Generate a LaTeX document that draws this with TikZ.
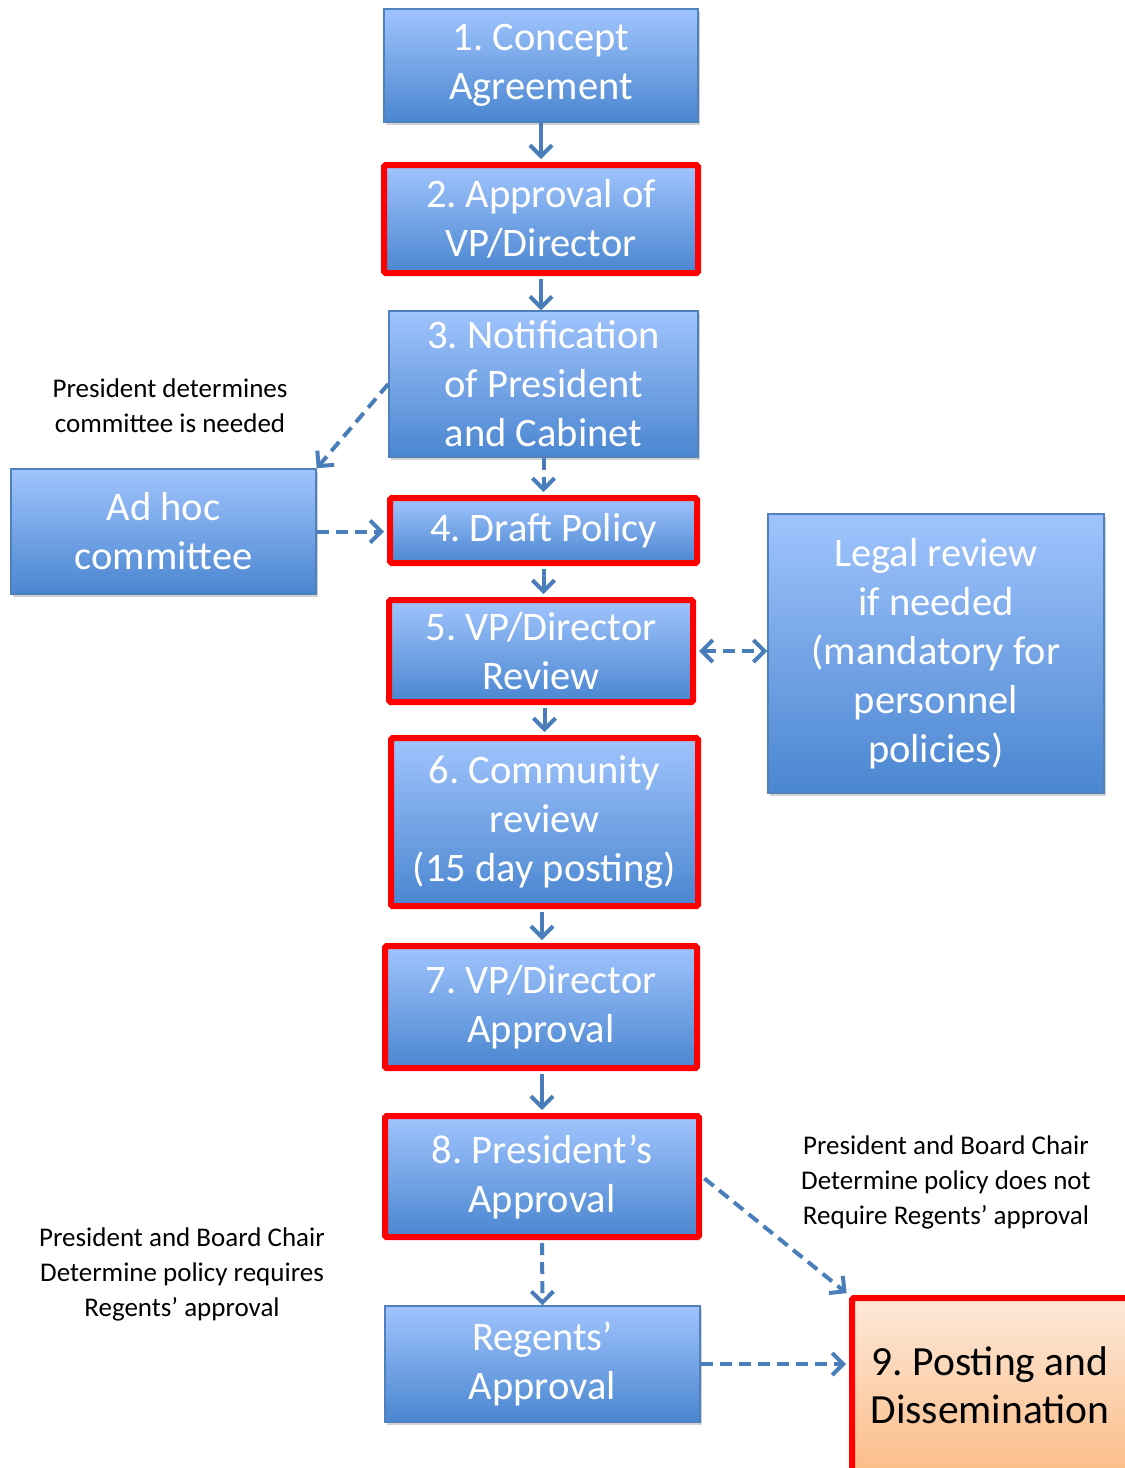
\documentclass[tikz,border=0pt]{standalone}
\usepackage{fontspec}
\setmainfont{Carlito}
\usetikzlibrary{arrows.meta,shadows}
\definecolor{btop}{HTML}{A0C4FD}
\definecolor{bbot}{HTML}{4A86D0}
\definecolor{bline}{HTML}{4F81BD}
\definecolor{arr}{HTML}{4A7EBB}
\definecolor{ptop}{HTML}{FDE9DA}
\definecolor{pbot}{HTML}{FBBD88}
\tikzset{
 bluebox/.style={draw=bline, line width=1.5pt, top color=btop, bottom color=bbot, text=white, align=center,
   font=\fontsize{40.5}{49}\selectfont, inner sep=0pt,
   drop shadow={shadow xshift=1.5pt, shadow yshift=-2.5pt, opacity=0.35}},
 redbox/.style={bluebox, draw=red, line width=6pt, rounded corners=1.5pt},
 peachbox/.style={redbox, top color=ptop, bottom color=pbot, text=black, font=\fontsize{41.5}{48}\selectfont},
 note/.style={align=center, font=\fontsize{27}{35}\selectfont, text=black, inner sep=0pt},
 flow/.style={draw=arr, line width=4pt, -{Straight Barb[length=11pt,width=22pt]}},
 dflow/.style={flow, dash pattern=on 12pt off 7pt},
}
\begin{document}
\frenchspacing
\begin{tikzpicture}[x=1pt,y=-1pt]
\clip (0,0) rectangle (1125,1468);
\fill[white] (0,0) rectangle (1125,1468);
% boxes
\node[bluebox, minimum width=314pt, minimum height=113pt] (n1) at (541,65.5) {1. Concept\\Agreement};
\node[redbox, minimum width=314pt, minimum height=108pt] (n2) at (541,219) {2. Approval of\\VP/Director};
\node[bluebox, minimum width=309pt, minimum height=146pt] (n3) at (543.5,384) {3. Notification\\of President\\and Cabinet};
\node[redbox, minimum width=307pt, minimum height=65pt] (n4) at (543.5,530.5) {4. Draft Policy};
\node[redbox, minimum width=304pt, minimum height=102pt] (n5) at (541,651) {5. VP/Director\\Review};
\node[redbox, minimum width=307pt, minimum height=168pt] (n6) at (544.5,822) {6. Community\\review\\(15 day posting)};
\node[redbox, minimum width=312pt, minimum height=122pt] (n7) at (541,1007) {7. VP/Director\\Approval};
\node[redbox, minimum width=314pt, minimum height=121pt] (n8) at (542,1176.5) {8. President’s\\Approval};
\node[bluebox, minimum width=315pt, minimum height=116pt] (reg) at (542.5,1364) {Regents’\\Approval};
\node[peachbox, minimum width=276pt, minimum height=174pt] (n9) at (990,1385) {9. Posting and\\Dissemination};
\node[bluebox, minimum width=305pt, minimum height=125pt] (adhoc) at (163.5,531.5) {Ad hoc\\committee};
\node[bluebox, minimum width=336pt, minimum height=279pt] (legal) at (936,653.5) {Legal review\\if needed\\(mandatory for\\personnel\\policies)};
% notes
\node[note] (lab1) at (170,406) {President determines\\committee is needed};
\node[note] (lab2) at (946,1182) {President and Board Chair\\Determine policy does not\\Require Regents’ approval};
\node[note] (lab3) at (182,1274) {President and Board Chair\\Determine policy requires\\Regents’ approval};
% connectors
\draw[flow, shorten >=3pt] (n1.south) -- (n1.south |- n2.north);
\draw[flow, shorten <=3pt] (n2.south) -- (n2.south |- n3.north);
\draw[dflow, shorten >=3pt] (n3.south) -- (n4.north);
\draw[dflow] (n3.west) -- (adhoc.north east);
\draw[dflow, shorten >=3pt] (adhoc.east) -- (adhoc.east -| n4.west);
\draw[flow, shorten <=3pt, shorten >=3pt] (n4.south) -- (n4.south |- n5.north);
\draw[dflow, {Straight Barb[length=11pt,width=22pt]}-{Straight Barb[length=11pt,width=22pt]}, shorten <=3pt] (n5.east) -- (n5.east -| legal.west);
\draw[flow, shorten <=3pt, shorten >=3pt] (n6.north |- n5.south) -- (n6.north);
\draw[flow, shorten <=3pt, shorten >=3pt] (n8.north |- n6.south) -- (n8.north |- n7.north);
\draw[flow, shorten <=3pt, shorten >=3pt] (n8.north |- n7.south) -- (n8.north);
\draw[dflow, shorten <=3pt] (n8.south) -- (reg.north);
\draw[dflow, shorten <=3pt, shorten >=3pt] (n8.east) -- (n9.north west);
\draw[dflow, shorten >=3pt] (reg.east) -- (reg.east -| n9.west);
\end{tikzpicture}
\end{document}
